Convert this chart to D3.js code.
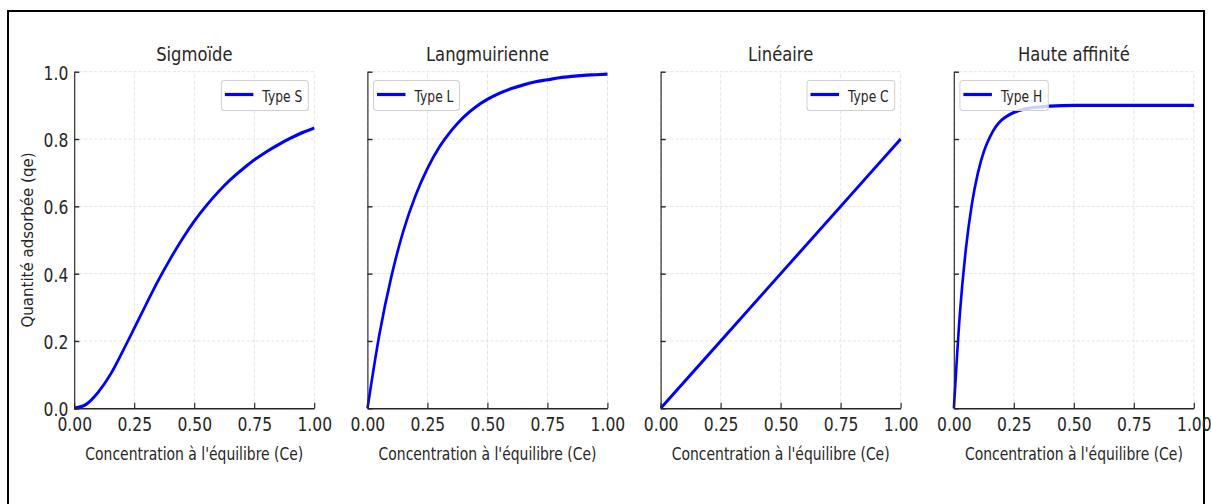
<!doctype html>
<html lang="fr">
<head>
<meta charset="utf-8">
<title>Isothermes d'adsorption</title>
<style>
 body{ margin:0; background:#fff; }
 svg text{ font-family: "DejaVu Sans", sans-serif; fill:#262626; }
 .grid line{ stroke:#e2e2e2; stroke-width:1; stroke-dasharray:4,2; }
 .axis path, .axis line{ stroke:#262626; stroke-width:1.4; }
</style>
</head>
<body>
<div id="chart"></div>
<script src="https://cdn.jsdelivr.net/npm/d3@7/dist/d3.min.js"></script>
<script>

// panel titles and legend entries
var titles = ['Sigmoïde', 'Langmuirienne', 'Linéaire', 'Haute affinité'];
var legendLabels = ['Type S', 'Type L', 'Type C', 'Type H'];
var legendSide = ['right', 'left', 'right', 'left'];

// values (Ce, qe)
var ceS = [0, 0.05, 0.1, 0.15, 0.2, 0.25, 0.3, 0.35, 0.4, 0.45, 0.5, 0.55, 0.6, 0.65, 0.7, 0.75, 0.8, 0.85, 0.9, 0.95, 1.0];
var qeS = [0, 0.012, 0.048, 0.10, 0.167, 0.238, 0.31, 0.38, 0.444, 0.503, 0.556, 0.602, 0.643, 0.679, 0.71, 0.738, 0.762, 0.783, 0.802, 0.819, 0.833];

var ceL = [0, 0.05, 0.1, 0.15, 0.2, 0.25, 0.3, 0.35, 0.4, 0.45, 0.5, 0.55, 0.6, 0.65, 0.7, 0.75, 0.8, 0.85, 0.9, 0.95, 1.0];
var qeL = [0, 0.221, 0.393, 0.528, 0.632, 0.713, 0.777, 0.826, 0.865, 0.895, 0.918, 0.936, 0.950, 0.961, 0.970, 0.976, 0.982, 0.986, 0.989, 0.991, 0.993];

var ceC = [0, 0.25, 0.5, 0.75, 1.0];
var qeC = [0, 0.2, 0.4, 0.6, 0.8];

var ceH = [0, 0.025, 0.05, 0.075, 0.1, 0.125, 0.15, 0.175, 0.2, 0.25, 0.3, 0.35, 0.4, 0.5, 0.6, 0.8, 1.0];
var qeH = [0, 0.282, 0.474, 0.607, 0.699, 0.763, 0.806, 0.837, 0.857, 0.879, 0.890, 0.895, 0.898, 0.900, 0.900, 0.900, 0.900];

var xTicks = [0, 0.25, 0.5, 0.75, 1.0];
var yTicks = [0, 0.2, 0.4, 0.6, 0.8, 1.0];

var xLabel = "Concentration à l'équilibre (Ce)";
var yLabel = 'Quantité adsorbée (qe)';

var series = [
  d3.zip(ceS, qeS),
  d3.zip(ceL, qeL),
  d3.zip(ceC, qeC),
  d3.zip(ceH, qeH)
];

var chartWidth = 1211, chartHeight = 504;
var SX = 0.82;            // the picture is squeezed horizontally
var panelW = 240, panelH = 336.6, plotTop = 71.7, firstLeft = 74.3, step = 293.2;

var svg = d3.select('#chart').append('svg')
  .attr('width', chartWidth)
  .attr('height', chartHeight);

svg.append('rect')
  .attr('x', 8).attr('y', 11)
  .attr('width', 1196).attr('height', 600)
  .attr('fill', 'none')
  .attr('stroke', '#000')
  .attr('stroke-width', 2);

var root = svg.append('g').attr('transform', 'scale(' + SX + ',1)');

var x = d3.scaleLinear().domain([0, 1]).range([0, panelW / SX]);
var y = d3.scaleLinear().domain([0, 1]).range([panelH, 0]);

var line = d3.line()
  .x(function(d){ return x(d[0]); })
  .y(function(d){ return y(d[1]); })
  .curve(d3.curveMonotoneX);

series.forEach(function(data, i){

  var panelLeft = firstLeft + i * step;
  var g = root.append('g')
    .attr('transform', 'translate(' + (panelLeft / SX) + ',' + plotTop + ')');

  // grid
  var grid = g.append('g').attr('class', 'grid');
  grid.selectAll('.vx').data(xTicks).enter().append('line')
    .attr('x1', function(d){ return x(d); }).attr('x2', function(d){ return x(d); })
    .attr('y1', y(0)).attr('y2', y(1));
  grid.selectAll('.hy').data(yTicks).enter().append('line')
    .attr('x1', x(0)).attr('x2', x(1))
    .attr('y1', function(d){ return y(d); }).attr('y2', function(d){ return y(d); });

  // curve
  g.append('path')
    .datum(data)
    .attr('d', line)
    .attr('fill', 'none')
    .attr('stroke', '#0000ff')
    .attr('stroke-width', 3.2);

  // axes
  var xaxis = d3.axisBottom(x)
    .tickValues(xTicks)
    .tickFormat(d3.format('.2f'))
    .tickSizeInner(-5.5)
    .tickSizeOuter(0)
    .tickPadding(9.4);

  var gx = g.append('g')
    .attr('class', 'axis')
    .attr('transform', 'translate(0,' + panelH + ')')
    .call(xaxis)
    .attr('font-size', null).attr('font-family', null);
  gx.selectAll('text').style('font-size', '19px');

  var yaxis = d3.axisLeft(y)
    .tickValues(yTicks)
    .tickFormat(i === 0 ? d3.format('.1f') : function(){ return ''; })
    .tickSizeInner(-5 / SX)
    .tickSizeOuter(0)
    .tickPadding(6 / SX);

  var gy = g.append('g')
    .attr('class', 'axis')
    .call(yaxis)
    .attr('font-size', null).attr('font-family', null);
  gy.selectAll('text').style('font-size', '19px').attr('dy', '0.4em');

  // title
  g.append('text')
    .attr('x', x(0.5))
    .attr('y', -10.7)
    .attr('text-anchor', 'middle')
    .style('font-size', '20px')
    .text(titles[i]);

  // x label
  g.append('text')
    .attr('x', x(0.5))
    .attr('y', 388.8)
    .attr('text-anchor', 'middle')
    .style('font-size', '17px')
    .text(xLabel);

  // legend
  var lg = g.append('g');
  var box = lg.append('rect')
    .attr('y', 8.8)
    .attr('height', 30)
    .attr('rx', 3 / SX).attr('ry', 3)
    .attr('fill', '#fff')
    .attr('fill-opacity', 0.8)
    .attr('stroke', '#d0d0d0')
    .attr('stroke-width', 1.2);
  var sample = lg.append('line')
    .attr('y1', 8.8 + 14).attr('y2', 8.8 + 14)
    .attr('stroke', '#0000ff')
    .attr('stroke-width', 3.2);
  var label = lg.append('text')
    .attr('y', 8.8 + 21.5)
    .style('font-size', '15px')
    .text(legendLabels[i]);

  var boxW = 41 + label.node().getComputedTextLength() * SX + 6;
  var boxX = legendSide[i] === 'right' ? panelW - 6 - boxW : 6;
  box.attr('x', boxX / SX).attr('width', boxW / SX);
  sample.attr('x1', (boxX + 3.5) / SX).attr('x2', (boxX + 32) / SX);
  label.attr('x', (boxX + 41) / SX);
});

// y label (vertical text is not squeezed along its length)
svg.append('text')
  .attr('transform', 'translate(33,' + (plotTop + panelH / 2) + ') rotate(-90)')
  .attr('text-anchor', 'middle')
  .style('font-size', '15px')
  .text(yLabel);

</script>
</body>
</html>
